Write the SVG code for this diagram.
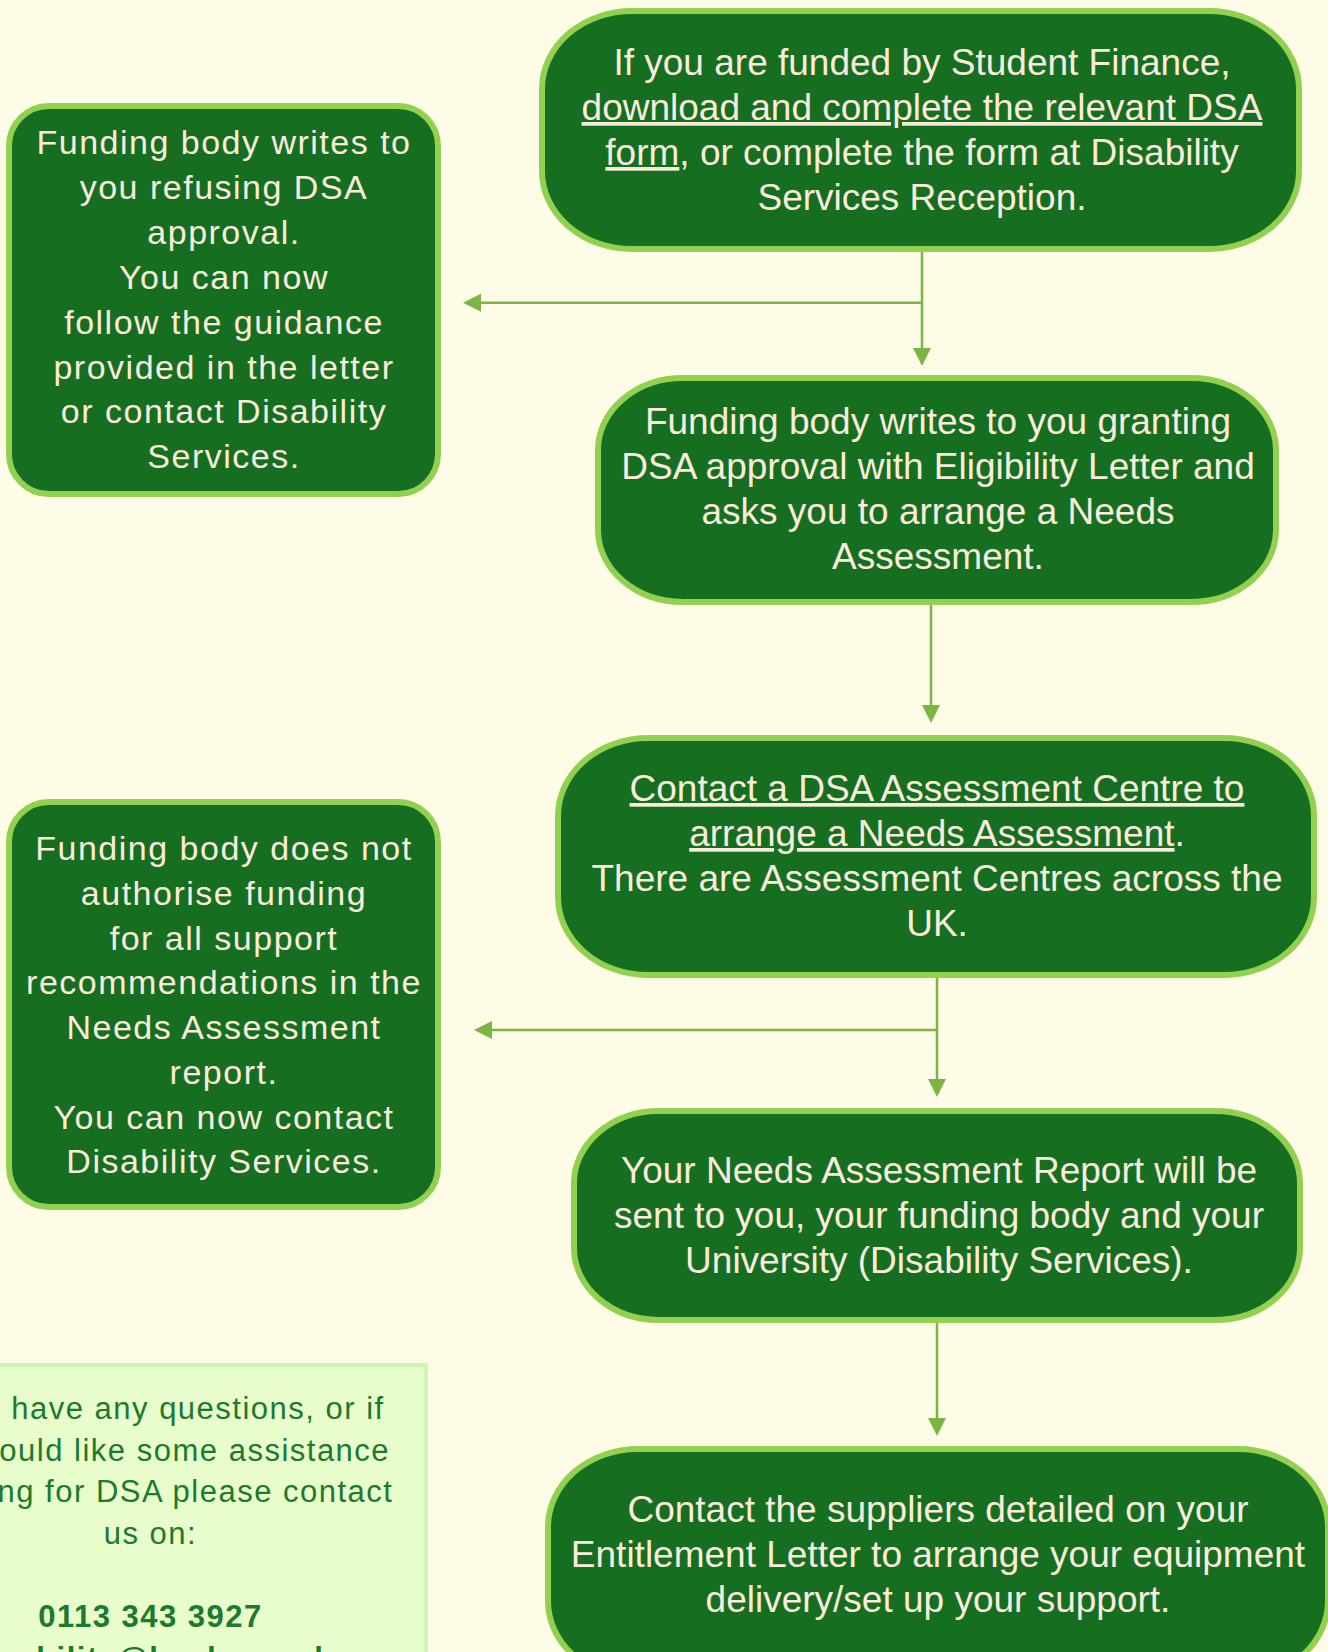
<svg xmlns="http://www.w3.org/2000/svg" width="1328" height="1652" viewBox="0 0 1328 1652">
<defs>
<style>
.node rect{fill:#166F21;stroke:#92D050;stroke-width:6}
.t{font-family:"Liberation Sans",Arial,sans-serif;font-size:34px;letter-spacing:1.5px;fill:#FBEBDD;text-anchor:middle}
.r{font-size:37px;letter-spacing:0}
.u{text-decoration:underline}
.info rect{fill:#E9FCCB;stroke:#D0F6B4;stroke-width:4}
.c{font-family:"Liberation Sans",Arial,sans-serif;font-size:31px;letter-spacing:1.5px;fill:#1B7B2C;text-anchor:middle}
.b{font-weight:bold}
.conn path{fill:none;stroke:#7DB544;stroke-width:2.5}
</style>
<marker id="arr" viewBox="0 0 18 18" refX="0" refY="9" markerWidth="18" markerHeight="18" markerUnits="userSpaceOnUse" orient="auto">
<path d="M0,0 L18,9 L0,18 z" fill="#7DB544"/>
</marker>
</defs>
<rect x="0" y="0" width="1328" height="1652" fill="#FEFCE7"/>

<g id="connectors" class="conn">
<path d="M922,252 V348" marker-end="url(#arr)"/>
<path d="M922,302.7 H481" marker-end="url(#arr)"/>
<path d="M931,605 V705" marker-end="url(#arr)"/>
<path d="M937,977 V1079" marker-end="url(#arr)"/>
<path d="M937,1030 H492" marker-end="url(#arr)"/>
<path d="M937,1323 V1418" marker-end="url(#arr)"/>
</g>

<g id="node-apply" class="node">
<rect x="542" y="11" width="757" height="238" rx="90" ry="78"/>
<text class="t r" x="922" y="75">If you are funded by Student Finance,</text>
<text class="t r" x="922" y="120"><tspan class="u">download and complete the relevant DSA</tspan></text>
<text class="t r" x="922" y="165"><tspan class="u">form</tspan>, or complete the form at Disability</text>
<text class="t r" x="922" y="210">Services Reception.</text>
</g>

<g id="node-refused" class="node">
<rect x="9" y="106" width="429" height="388" rx="40" ry="40"/>
<text class="t" x="224" y="154">Funding body writes to</text>
<text class="t" x="224" y="199">you refusing DSA</text>
<text class="t" x="224" y="244">approval.</text>
<text class="t" x="224" y="289">You can now</text>
<text class="t" x="224" y="334">follow the guidance</text>
<text class="t" x="224" y="379">provided in the letter</text>
<text class="t" x="224" y="423">or contact Disability</text>
<text class="t" x="224" y="468">Services.</text>
</g>

<g id="node-granted" class="node">
<rect x="598" y="378" width="678" height="224" rx="85" ry="72"/>
<text class="t r" x="938" y="434">Funding body writes to you granting</text>
<text class="t r" x="938" y="479">DSA approval with Eligibility Letter and</text>
<text class="t r" x="938" y="524">asks you to arrange a Needs</text>
<text class="t r" x="938" y="569">Assessment.</text>
</g>

<g id="node-contact-centre" class="node">
<rect x="558" y="738" width="756" height="237" rx="90" ry="78"/>
<text class="t r" x="937" y="801"><tspan class="u">Contact a DSA Assessment Centre to</tspan></text>
<text class="t r" x="937" y="846"><tspan class="u">arrange a Needs Assessment</tspan>.</text>
<text class="t r" x="937" y="891">There are Assessment Centres across the</text>
<text class="t r" x="937" y="936">UK.</text>
</g>

<g id="node-not-authorised" class="node">
<rect x="9" y="802" width="429" height="405" rx="40" ry="40"/>
<text class="t" x="224" y="860">Funding body does not</text>
<text class="t" x="224" y="905">authorise funding</text>
<text class="t" x="224" y="950">for all support</text>
<text class="t" x="224" y="994">recommendations in the</text>
<text class="t" x="224" y="1039">Needs Assessment</text>
<text class="t" x="224" y="1084">report.</text>
<text class="t" x="224" y="1129">You can now contact</text>
<text class="t" x="224" y="1173">Disability Services.</text>
</g>

<g id="node-report" class="node">
<rect x="574" y="1111" width="726" height="209" rx="85" ry="72"/>
<text class="t r" x="939" y="1183">Your Needs Assessment Report will be</text>
<text class="t r" x="939" y="1228">sent to you, your funding body and your</text>
<text class="t r" x="939" y="1273">University (Disability Services).</text>
</g>

<g id="node-suppliers" class="node">
<rect x="548" y="1449" width="780" height="230" rx="90" ry="78"/>
<text class="t r" x="938" y="1522">Contact the suppliers detailed on your</text>
<text class="t r" x="938" y="1567">Entitlement Letter to arrange your equipment</text>
<text class="t r" x="938" y="1612">delivery/set up your support.</text>
</g>

<g id="info-box" class="info">
<rect x="-128" y="1365" width="554" height="330"/>
<text class="c" x="150.5" y="1419">If you have any questions, or if</text>
<text class="c" x="150.5" y="1460.6">you would like some assistance</text>
<text class="c" x="150.5" y="1502">applying for DSA please contact</text>
<text class="c" x="150.5" y="1544">us on:</text>
<text class="c b" x="150.5" y="1627">0113 343 3927</text>
<text class="c b" x="150.5" y="1668.6">disability@leeds.ac.uk</text>
</g>
</svg>
